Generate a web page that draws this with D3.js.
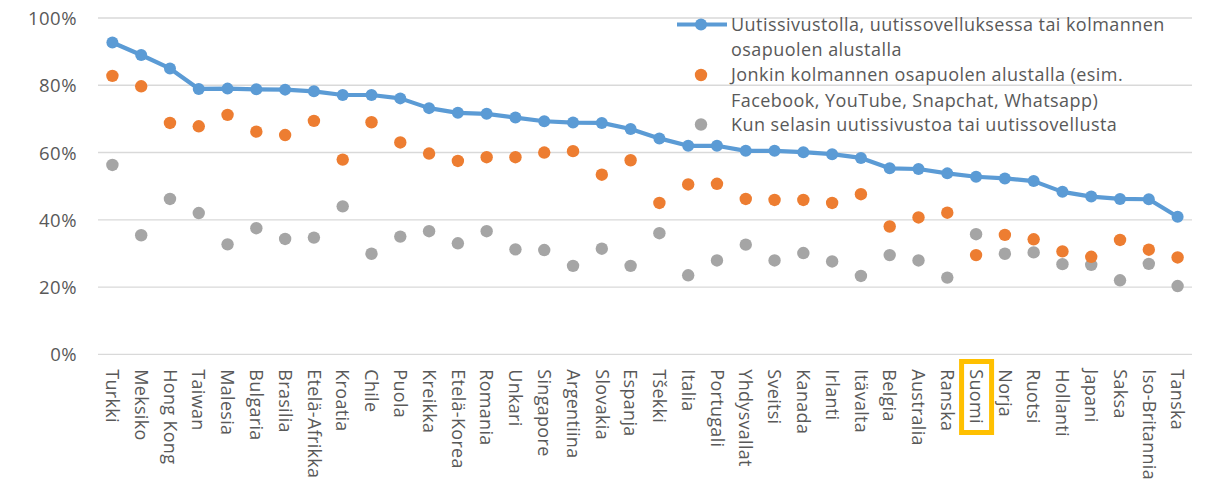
<!DOCTYPE html>
<html><head><meta charset="utf-8">
<script src="https://cdn.jsdelivr.net/npm/d3@7"></script>
<style>body{margin:0;background:#fff}svg{display:block}</style>
</head><body>
<svg id="c" width="1205" height="484"></svg>
<script>
const categories = ["Turkki","Meksiko","Hong Kong","Taiwan","Malesia","Bulgaria","Brasilia","Etelä-Afrikka","Kroatia","Chile","Puola","Kreikka","Etelä-Korea","Romania","Unkari","Singapore","Argentiina","Slovakia","Espanja","Tšekki","Italia","Portugali","Yhdysvallat","Sveitsi","Kanada","Irlanti","Itävalta","Belgia","Australia","Ranska","Suomi","Norja","Ruotsi","Hollanti","Japani","Saksa","Iso-Britannia","Tanska"];
const anyPlatform = [92.7,89.0,85.0,78.9,79.0,78.8,78.7,78.2,77.1,77.1,76.1,73.2,71.8,71.5,70.4,69.3,68.9,68.8,67.0,64.2,62.0,62.0,60.5,60.5,60.1,59.5,58.4,55.3,55.1,53.8,52.8,52.3,51.5,48.3,46.9,46.2,46.1,40.9];
const thirdParty = [82.8,79.7,68.8,67.8,71.2,66.2,65.2,69.4,57.9,69.0,63.0,59.7,57.5,58.6,58.6,60.0,60.4,53.4,57.7,45.0,50.5,50.7,46.2,45.9,45.9,45.0,47.6,38.0,40.7,42.1,29.5,35.5,34.2,30.6,29.0,34.0,31.1,28.8];
const directSite = [56.3,35.4,46.2,42.0,32.7,37.5,34.3,34.7,44.0,29.9,35.0,36.6,33.0,36.6,31.2,31.0,26.3,31.4,26.3,36.0,23.5,27.9,32.6,27.9,30.1,27.6,23.3,29.5,27.9,22.8,35.7,29.9,30.3,26.8,26.6,22.0,26.9,20.3];
const yTicks = [0,20,40,60,80,100];
const seriesNames = ["Uutissivustolla, uutissovelluksessa tai kolmannen","osapuolen alustalla","Jonkin kolmannen osapuolen alustalla (esim.","Facebook, YouTube, Snapchat, Whatsapp)","Kun selasin uutissivustoa tai uutissovellusta"];
const highlight = "Suomi";

const svg = d3.select("#c");
const font = "'Open Sans', sans-serif";
const txt = "#595959";
const L = 98, R = 1192, T = 18, B = 354.3;
const x = d3.scaleBand().domain(categories).range([L, R]);
const y = d3.scaleLinear().domain([0, 100]).range([B, T]);
const cx = c => x(c) + x.bandwidth() / 2;

// gridlines
svg.append("g").selectAll("line").data(yTicks).join("line")
  .attr("x1", L).attr("x2", R).attr("y1", d => y(d)).attr("y2", d => y(d))
  .attr("stroke", "#d9d9d9").attr("stroke-width", 1.3);

// y axis labels
const yAxis = d3.axisLeft(y).tickValues(yTicks).tickFormat(d => d + "%").tickSize(0).tickPadding(0);
const gy = svg.append("g").attr("transform", "translate(77,0)").call(yAxis);
gy.select(".domain").remove();
gy.selectAll("text").attr("font-family", font).attr("font-size", 18.5).attr("letter-spacing", 0.5).attr("fill", txt).attr("dy", "0.35em");

// x axis labels
const xAxis = d3.axisBottom(x).tickSize(0).tickPadding(0);
const gx = svg.append("g").attr("transform", `translate(0,${B})`).call(xAxis);
gx.select(".domain").remove();
gx.selectAll("text")
  .attr("font-family", font).attr("font-size", 18).attr("letter-spacing", 0.3).attr("fill", txt)
  .attr("text-anchor", "start").attr("dy", "0.35em")
  .attr("transform", "translate(0,15) rotate(90)").attr("y", 0).attr("x", 0);

// highlight box
svg.append("rect")
  .attr("x", cx(highlight) - 14.5).attr("y", 361.5)
  .attr("width", 30).attr("height", 71)
  .attr("fill", "none").attr("stroke", "#FFC000").attr("stroke-width", 5);

// gray points
svg.append("g").selectAll("circle").data(directSite).join("circle")
  .attr("cx", (d, i) => cx(categories[i])).attr("cy", d => y(d)).attr("r", 6.2).attr("fill", "#a5a5a5");
// orange points
svg.append("g").selectAll("circle").data(thirdParty).join("circle")
  .attr("cx", (d, i) => cx(categories[i])).attr("cy", d => y(d)).attr("r", 6.2).attr("fill", "#ed7d31");
// blue line
const line = d3.line().x((d, i) => cx(categories[i])).y(d => y(d));
svg.append("path").datum(anyPlatform).attr("d", line)
  .attr("fill", "none").attr("stroke", "#5b9bd5").attr("stroke-width", 4.2).attr("stroke-linejoin", "round");
svg.append("g").selectAll("circle").data(anyPlatform).join("circle")
  .attr("cx", (d, i) => cx(categories[i])).attr("cy", d => y(d)).attr("r", 6).attr("fill", "#5b9bd5");

// legend
const lg = svg.append("g");
lg.append("line").attr("x1", 677).attr("x2", 727).attr("y1", 24.5).attr("y2", 24.5)
  .attr("stroke", "#5b9bd5").attr("stroke-width", 4.2);
lg.append("circle").attr("cx", 701).attr("cy", 24.5).attr("r", 6).attr("fill", "#5b9bd5");
lg.append("circle").attr("cx", 701).attr("cy", 75).attr("r", 6.2).attr("fill", "#ed7d31");
lg.append("circle").attr("cx", 701).attr("cy", 124.5).attr("r", 6.2).attr("fill", "#a5a5a5");
const ly = [25, 50, 75, 100.5, 125];
lg.selectAll("text").data(seriesNames).join("text")
  .attr("x", 731).attr("y", (d, i) => ly[i]).attr("dy", "0.35em")
  .attr("font-family", font).attr("font-size", 18).attr("letter-spacing", 0.45).attr("fill", txt).text(d => d);
</script>
</body></html>
